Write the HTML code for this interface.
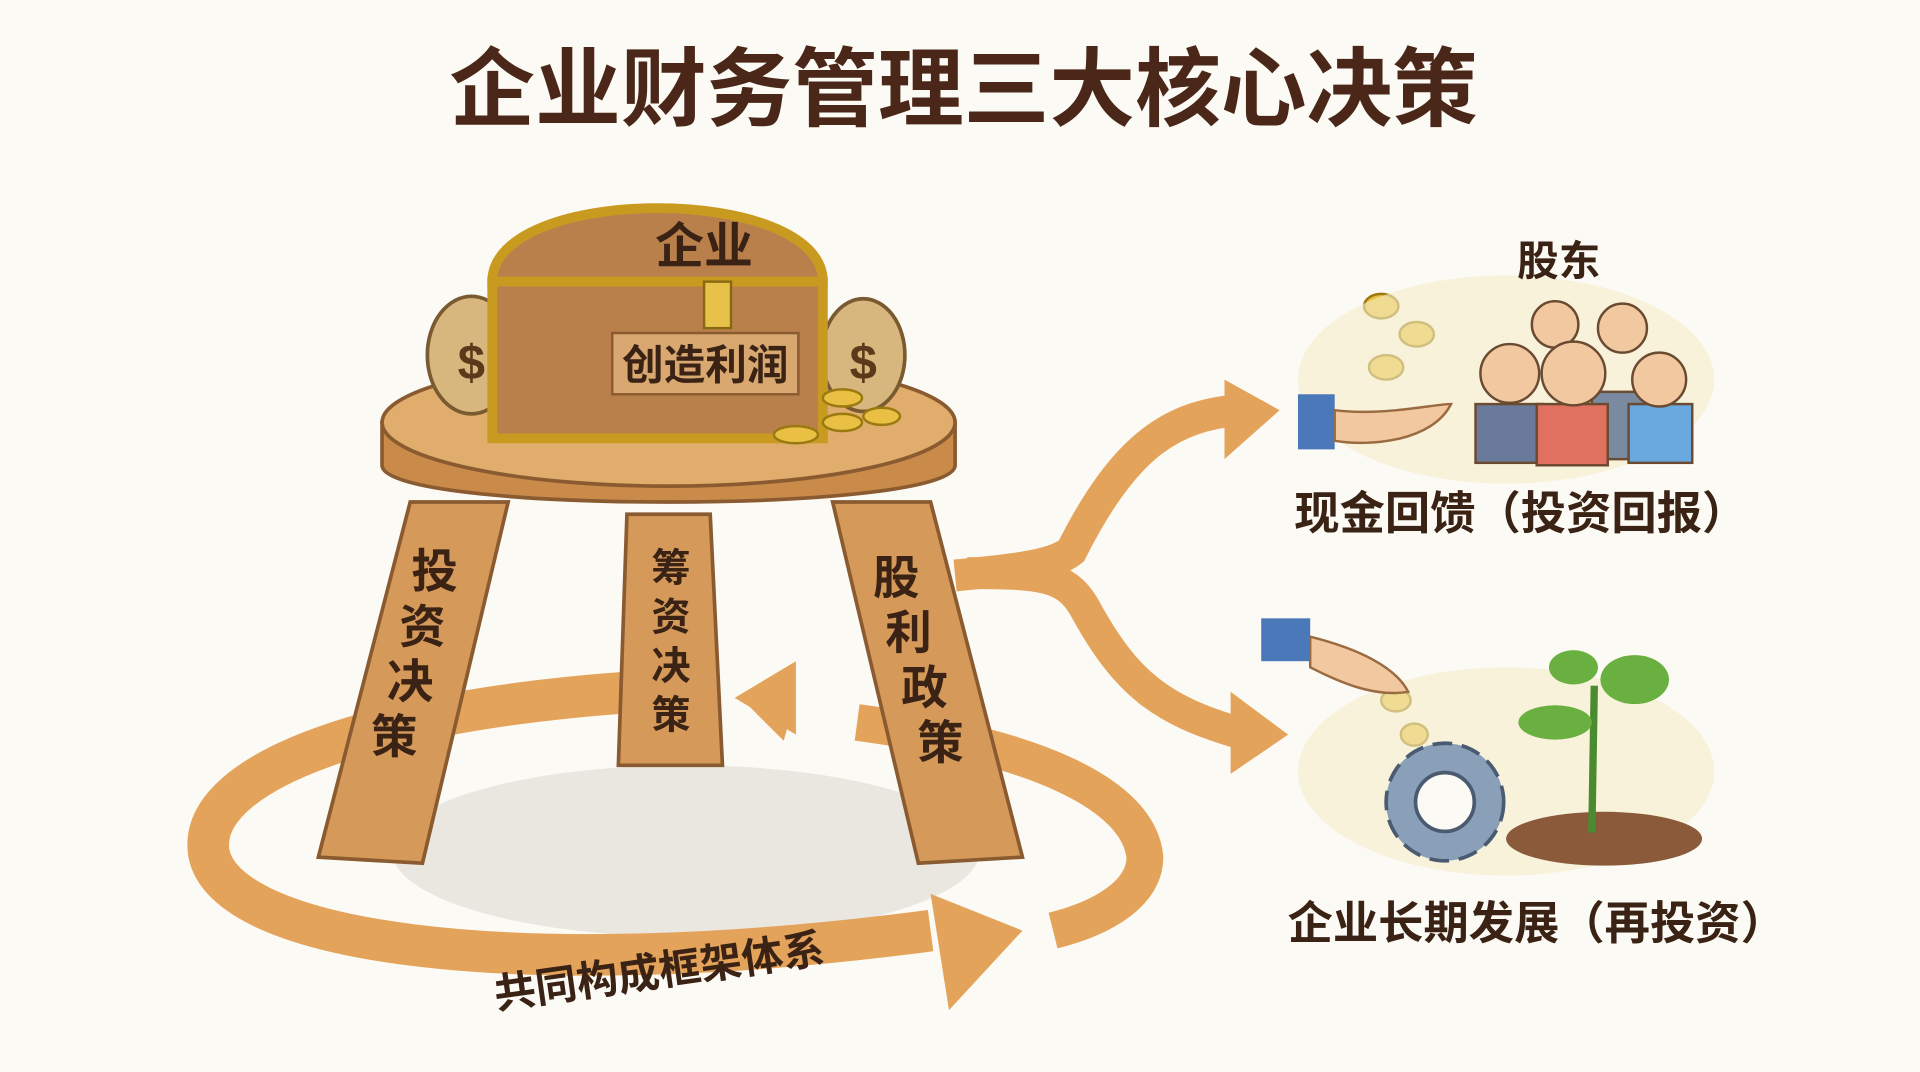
<!DOCTYPE html>
<html><head><meta charset="utf-8"><style>
html,body{margin:0;padding:0;background:#fcfaf4;}
svg{display:block;}
text{font-family:"Liberation Sans","Noto Sans CJK SC",sans-serif;font-weight:bold;}
</style></head><body>
<svg width="1920" height="1072" viewBox="0 0 1568 875.5" preserveAspectRatio="none">
<rect width="1568" height="876" fill="#fcfaf4"/>
<text x="787" y="97" font-size="70" fill="#4a2718" text-anchor="middle">企业财务管理三大核心决策</text>
<!-- shadow -->
<ellipse cx="560" cy="695" rx="240" ry="70" fill="#dedad2" opacity="0.6"/>
<!-- loop arrow -->
<path d="M520 565 C 300 580 170 630 170 690 C 170 770 420 805 760 760" fill="none" stroke="#e4a35a" stroke-width="34"/>
<path d="M760 730 L 835 760 L 775 825 Z" fill="#e4a35a"/>
<path d="M700 590 C 850 610 930 650 935 700 C 935 730 900 750 860 760" fill="none" stroke="#e4a35a" stroke-width="30"/>
<path d="M650 570 L 605 570 L 640 605 Z" fill="#e4a35a"/>
<path d="M600 570 L 650 540 L 650 600 Z" fill="#e4a35a"/>
<text x="540" y="805" font-size="34" fill="#3a2214" text-anchor="middle" transform="rotate(-8 540 805)">共同构成框架体系</text>
<!-- legs -->
<path d="M335 410 L 415 410 L 345 705 L 260 700 Z" fill="#d59a5a" stroke="#8a5a30" stroke-width="3"/>
<path d="M512 420 L 580 420 L 590 625 L 505 625 Z" fill="#d59a5a" stroke="#8a5a30" stroke-width="3"/>
<path d="M680 410 L 760 410 L 835 700 L 750 705 Z" fill="#d59a5a" stroke="#8a5a30" stroke-width="3"/>
<g font-size="38" fill="#3a2214" text-anchor="middle">
<text x="355" y="480">投</text><text x="345" y="525">资</text><text x="335" y="570">决</text><text x="322" y="615">策</text>
<text x="548" y="475" font-size="32">筹</text><text x="548" y="515" font-size="32">资</text><text x="548" y="555" font-size="32">决</text><text x="548" y="595" font-size="32">策</text>
<text x="732" y="485">股</text><text x="742" y="530">利</text><text x="755" y="575">政</text><text x="768" y="620">策</text>
</g>
<!-- seat -->
<path d="M312 345 L 312 380 C 312 420 780 420 780 380 L 780 345 Z" fill="#c98a4a" stroke="#8a5a30" stroke-width="3"/>
<ellipse cx="546" cy="345" rx="234" ry="52" fill="#e0ad6c" stroke="#8a5a30" stroke-width="3"/>
<!-- bags -->
<ellipse cx="385" cy="290" rx="36" ry="48" fill="#d7b77e" stroke="#7a5a30" stroke-width="3"/>
<text x="385" y="310" font-size="40" fill="#5a3a1a" text-anchor="middle">$</text>
<ellipse cx="705" cy="290" rx="34" ry="46" fill="#d7b77e" stroke="#7a5a30" stroke-width="3"/>
<text x="705" y="310" font-size="40" fill="#5a3a1a" text-anchor="middle">$</text>
<!-- chest -->
<path d="M402 230 C 402 150 672 150 672 230 Z" fill="#b9804c" stroke="#c99a20" stroke-width="8"/>
<rect x="402" y="230" width="270" height="128" fill="#b9804c" stroke="#c99a20" stroke-width="8"/>
<rect x="575" y="230" width="22" height="38" fill="#e8c14a" stroke="#8a6a10" stroke-width="2"/>
<text x="575" y="215" font-size="40" fill="#3a2214" text-anchor="middle">企业</text>
<rect x="500" y="272" width="152" height="50" fill="#d8a870" stroke="#8a5a30" stroke-width="2"/>
<text x="576" y="310" font-size="34" fill="#3a2214" text-anchor="middle">创造利润</text>
<!-- coins -->
<g fill="#e9c044" stroke="#9a7a10" stroke-width="2">
<ellipse cx="650" cy="355" rx="18" ry="7"/><ellipse cx="688" cy="325" rx="16" ry="7"/><ellipse cx="688" cy="345" rx="16" ry="7"/><ellipse cx="720" cy="340" rx="15" ry="7"/>
<ellipse cx="1128" cy="250" rx="14" ry="10"/><ellipse cx="1157" cy="273" rx="14" ry="10"/><ellipse cx="1132" cy="300" rx="14" ry="10"/>
<ellipse cx="1140" cy="572" rx="12" ry="9"/><ellipse cx="1155" cy="600" rx="11" ry="9"/><ellipse cx="1175" cy="660" rx="14" ry="10"/>
</g>
<!-- branch arrows -->
<path d="M780 470 C 830 465 860 462 875 450 C 920 360 960 340 1010 335" fill="none" stroke="#e4a35a" stroke-width="26"/>
<path d="M1000 310 L 1045 335 L 1000 375 Z" fill="#e4a35a"/>
<path d="M790 468 C 850 468 870 470 885 495 C 920 560 950 580 1010 598" fill="none" stroke="#e4a35a" stroke-width="26"/>
<path d="M1005 565 L 1052 600 L 1005 632 Z" fill="#e4a35a"/>
<!-- shareholders -->
<ellipse cx="1230" cy="310" rx="170" ry="85" fill="#f5ecc8" opacity="0.6"/>
<text x="1273" y="225" font-size="34" fill="#3a2214" text-anchor="middle">股东</text>
<rect x="1060" y="322" width="30" height="45" fill="#4a78b8"/>
<path d="M1090 335 C 1130 340 1170 330 1185 330 C 1170 360 1120 365 1090 360 Z" fill="#f2c8a0" stroke="#9a6a40" stroke-width="2"/>
<g stroke="#6a4a30" stroke-width="2">
<rect x="1205" y="330" width="55" height="48" fill="#6a7a9a"/><circle cx="1233" cy="305" r="24" fill="#f2c8a0"/>
<rect x="1300" y="320" width="50" height="55" fill="#7a8aa0"/><circle cx="1325" cy="268" r="20" fill="#f2c8a0"/>
<circle cx="1270" cy="265" r="19" fill="#f2c8a0"/>
<rect x="1255" y="330" width="58" height="50" fill="#e07060"/><circle cx="1285" cy="305" r="26" fill="#f2c8a0"/>
<rect x="1330" y="330" width="52" height="48" fill="#6aa8e0"/><circle cx="1355" cy="310" r="22" fill="#f2c8a0"/>
</g>
<text x="1242" y="432" font-size="37" fill="#3a2214" text-anchor="middle">现金回馈（投资回报）</text>
<!-- reinvest -->
<ellipse cx="1230" cy="630" rx="170" ry="85" fill="#f5ecc8" opacity="0.6"/>
<rect x="1030" y="505" width="40" height="35" fill="#4a78b8"/>
<path d="M1070 520 C 1110 530 1140 545 1150 565 C 1120 570 1090 555 1070 545 Z" fill="#f2c8a0" stroke="#9a6a40" stroke-width="2"/>
<circle cx="1180" cy="655" r="48" fill="#8aa0b8" stroke="#4a5a70" stroke-width="3" stroke-dasharray="16 8"/>
<circle cx="1180" cy="655" r="24" fill="#fcfaf4" stroke="#4a5a70" stroke-width="3"/>
<ellipse cx="1310" cy="685" rx="80" ry="22" fill="#8a5a3a"/>
<path d="M1300 680 L 1302 560" stroke="#4a8a30" stroke-width="6"/>
<ellipse cx="1270" cy="590" rx="30" ry="14" fill="#6ab040"/><ellipse cx="1335" cy="555" rx="28" ry="20" fill="#6ab040"/><ellipse cx="1285" cy="545" rx="20" ry="14" fill="#6ab040"/>
<text x="1255" y="767" font-size="37" fill="#3a2214" text-anchor="middle">企业长期发展（再投资）</text>
</svg>
</body></html>
